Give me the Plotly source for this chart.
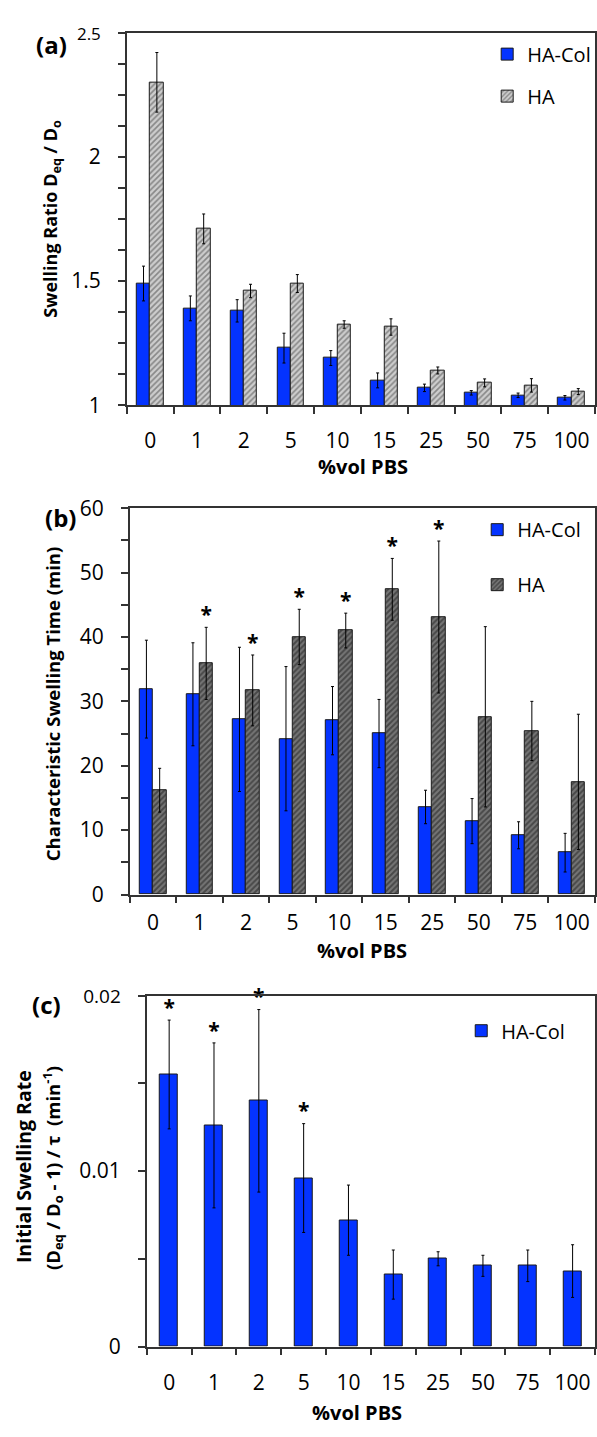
import numpy as np
import plotly.graph_objects as go

# ---------------- data ----------------
categories = ["0", "1", "2", "5", "10", "15", "25", "50", "75", "100"]

ratio_hacol = [1.49, 1.39, 1.38, 1.23, 1.19, 1.10, 1.07, 1.05, 1.04, 1.03]
ratio_hacol_err = [0.07, 0.05, 0.045, 0.06, 0.03, 0.03, 0.015, 0.009, 0.009, 0.009]
ratio_ha = [2.30, 1.71, 1.46, 1.49, 1.325, 1.315, 1.14, 1.09, 1.08, 1.055]
ratio_ha_err = [0.12, 0.06, 0.027, 0.036, 0.015, 0.033, 0.014, 0.016, 0.027, 0.012]

time_hacol = [31.9, 31.1, 27.2, 24.2, 27.0, 25.0, 13.6, 11.4, 9.2, 6.5]
time_hacol_err = [7.6, 8.0, 11.2, 11.2, 5.3, 5.3, 2.6, 3.5, 2.1, 3.0]
time_ha = [16.2, 35.9, 31.7, 40.0, 41.0, 47.4, 43.1, 27.6, 25.4, 17.5]
time_ha_err = [3.4, 5.6, 5.5, 4.3, 2.7, 4.8, 11.8, 14.0, 4.6, 10.5]
time_ha_sig = [False, True, True, True, True, True, True, False, False, False]

rate_hacol = [0.0155, 0.0126, 0.0140, 0.0096, 0.0072, 0.0041, 0.0050, 0.0046, 0.0046, 0.0043]
rate_hacol_err = [0.0031, 0.0047, 0.0052, 0.0031, 0.0020, 0.0014, 0.0004, 0.0006, 0.0009, 0.0015]
rate_hacol_sig = [True, True, True, True, False, False, False, False, False, False]

series_names = ["HA-Col", "HA"]

# ---------------- style ----------------
W, H = 597, 1437
FONT = "Open Sans"
BLUE = "#0433FF"
LINE = "#333333"
xpos = np.arange(len(categories))


def px_x(p):
    return p / W


def px_y(p):
    return 1 - p / H


pat_a = dict(shape="/", bgcolor="#cdcdcd", fgcolor="#444444", size=4, solidity=0.42)
pat_b = dict(shape="/", bgcolor="#767676", fgcolor="#1a1a1a", size=4, solidity=0.5)

fig = go.Figure()


def add_bar(vals, errs, xa, ya, width, offset, color, pattern, name, legend, group):
    marker = dict(color=color, line=dict(color="#1a1a1a", width=1))
    if pattern is not None:
        marker["pattern"] = pattern
    fig.add_trace(go.Bar(
        x=xpos, y=vals, width=width, offset=offset, name=name,
        marker=marker, xaxis=xa, yaxis=ya, legend=legend, legendgroup=group,
        error_y=dict(type="data", array=errs, color="black", thickness=1, width=1.5),
    ))


def add_stars(vals, errs, sig, xa, ya, dx):
    xs = [xpos[i] + dx for i in range(len(vals)) if sig[i]]
    ys = [vals[i] + errs[i] for i in range(len(vals)) if sig[i]]
    fig.add_trace(go.Scatter(
        x=xs, y=ys, mode="text", text=["<b>*</b>"] * len(xs), textposition="top center",
        textfont=dict(family=FONT, size=21, color="black"), showlegend=False,
        xaxis=xa, yaxis=ya, hoverinfo="skip", cliponaxis=False,
    ))


WA = 0.285
# panel (a)
add_bar(ratio_hacol, ratio_hacol_err, "x", "y", WA, -WA, BLUE, None, series_names[0], "legend", "a1")
add_bar(ratio_ha, ratio_ha_err, "x", "y", WA, 0, "#cdcdcd", pat_a, series_names[1], "legend", "a2")
# panel (b)
add_bar(time_hacol, time_hacol_err, "x2", "y2", WA, -WA, BLUE, None, series_names[0], "legend2", "b1")
add_bar(time_ha, time_ha_err, "x2", "y2", WA, 0, "#767676", pat_b, series_names[1], "legend2", "b2")
add_stars(time_ha, time_ha_err, time_ha_sig, "x2", "y2", WA / 2)
# panel (c)
WC = 0.4
add_bar(rate_hacol, rate_hacol_err, "x3", "y3", WC, -WC / 2, BLUE, None, series_names[0], "legend3", "c1")
add_stars(rate_hacol, rate_hacol_err, rate_hacol_sig, "x3", "y3", 0)

tickfont = dict(family=FONT, size=21, color="black")


def xaxis_cfg(left, anchor, standoff):
    return dict(
        domain=[px_x(left), px_x(596)], anchor=anchor, range=[-0.5, len(categories) - 0.5],
        tickmode="array", tickvals=xpos, ticktext=categories, ticks="",
        tickfont=tickfont, ticklabelstandoff=standoff,
        showline=True, linecolor=LINE, linewidth=1.5, mirror=True,
        showgrid=False, zeroline=False,
        minor=dict(tickmode="linear", tick0=-0.5, dtick=1, ticks="outside", ticklen=7,
                   tickwidth=1.5, tickcolor=LINE, showgrid=False),
    )


def yaxis_cfg(top, bottom, anchor, rng, tickvals, ticktext, minor_dtick):
    return dict(
        domain=[px_y(bottom), px_y(top)], anchor=anchor, range=rng,
        tickmode="array", tickvals=tickvals, ticktext=ticktext,
        ticks="outside", ticklen=7, tickwidth=1.5, tickcolor=LINE,
        tickfont=tickfont, ticklabelstandoff=13,
        showline=True, linecolor=LINE, linewidth=1.5, mirror=True,
        showgrid=False, zeroline=False,
        minor=dict(tickmode="linear", tick0=rng[0], dtick=minor_dtick, ticks="outside",
                   ticklen=7, tickwidth=1.5, tickcolor=LINE, showgrid=False),
    )


legend_font = dict(family=FONT, size=20, color="black")

fig.update_layout(
    width=W, height=H, margin=dict(l=0, r=0, t=0, b=0),
    paper_bgcolor="white", plot_bgcolor="white", font=dict(family=FONT, color="black"),
    xaxis=xaxis_cfg(127, "y", 16),
    yaxis=yaxis_cfg(18, 398, "x", [1, 2.5], [1, 1.5, 2, 2.5],
                    ["1", "1.5", "2", "<span style='font-size:17px'>2.5</span>"], 0.125),
    xaxis2=xaxis_cfg(130, "y2", 9),
    yaxis2=yaxis_cfg(503, 897, "x2", [0, 60], [0, 10, 20, 30, 40, 50, 60],
                     ["0", "10", "20", "30", "40", "50", "60"], 5),
    xaxis3=xaxis_cfg(147, "y3", 17),
    yaxis3=yaxis_cfg(1000, 1358, "x3", [0, 0.02], [0, 0.01, 0.02],
                     ["0", "0.01", "<span style='font-size:19px'>0.02</span>"], 0.005),
    legend=dict(x=px_x(488), y=px_y(20), xanchor="left", yanchor="top", font=legend_font,
                tracegroupgap=13, bgcolor="rgba(0,0,0,0)"),
    legend2=dict(x=px_x(478), y=px_y(505), xanchor="left", yanchor="top", font=legend_font,
                 tracegroupgap=26, bgcolor="rgba(0,0,0,0)"),
    legend3=dict(x=px_x(462), y=px_y(1016), xanchor="left", yanchor="top", font=legend_font,
                 bgcolor="rgba(0,0,0,0)"),
    bargap=0, showlegend=True,
)

title_font = dict(family=FONT, size=18, color="black")
label_font = dict(family=FONT, size=24, color="black")
xt_font = dict(family=FONT, size=20, color="black")
ann = [
    # panel labels
    dict(x=px_x(52), y=px_y(30), text="<b>(a)</b>", font=label_font),
    dict(x=px_x(61), y=px_y(512), text="<b>(b)</b>", font=label_font),
    dict(x=px_x(47), y=px_y(1009), text="<b>(c)</b>", font=label_font),
    # y titles
    dict(x=px_x(52), y=px_y(208), text="<b>Swelling Ratio D<sub>eq</sub> / D<sub>o</sub></b>",
         textangle=-90, font=title_font),
    dict(x=px_x(52), y=px_y(703), text="<b>Characteristic Swelling Time (min)</b>",
         textangle=-90, font=dict(family=FONT, size=18.5, color="black")),
    dict(x=px_x(23), y=px_y(1174), text="<b>Initial Swelling Rate</b>",
         textangle=-90, font=dict(family=FONT, size=19.5, color="black")),
    dict(x=px_x(53), y=px_y(1176),
         text="<b>(D<sub>eq</sub> / D<sub>o</sub> - 1) / τ  (min<sup>-1</sup>)</b>",
         textangle=-90, font=dict(family=FONT, size=18.5, color="black")),
    # x titles
    dict(x=px_x(364), y=px_y(460), text="<b>%vol PBS</b>", font=xt_font),
    dict(x=px_x(363), y=px_y(954), text="<b>%vol PBS</b>", font=xt_font),
    dict(x=px_x(358), y=px_y(1425), text="<b>%vol PBS</b>", font=xt_font),
]
for a in ann:
    a.update(xref="paper", yref="paper", showarrow=False, xanchor="center", yanchor="middle")
fig.update_layout(annotations=ann)

fig.write_html("out.html")
